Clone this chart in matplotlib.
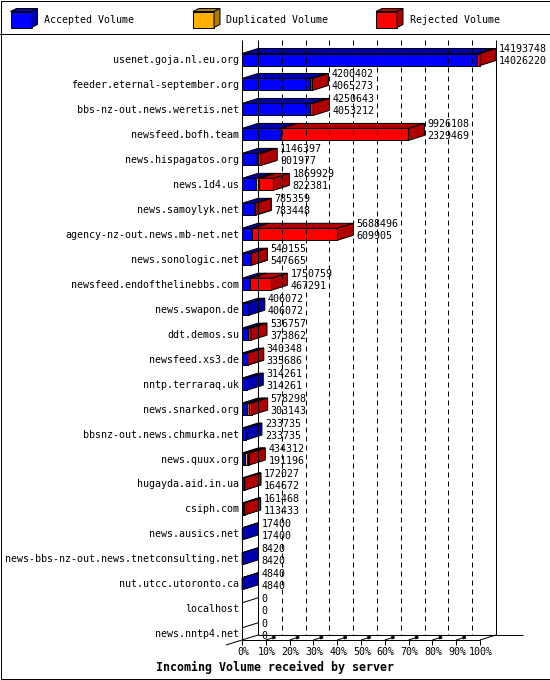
import matplotlib
matplotlib.use('Agg')
import matplotlib.pyplot as plt
from matplotlib.patches import Polygon, Rectangle

hosts = ['usenet.goja.nl.eu.org', 'feeder.eternal-september.org', 'bbs-nz-out.news.weretis.net',
         'newsfeed.bofh.team', 'news.hispagatos.org', 'news.1d4.us', 'news.samoylyk.net',
         'agency-nz-out.news.mb-net.net', 'news.sonologic.net', 'newsfeed.endofthelinebbs.com',
         'news.swapon.de', 'ddt.demos.su', 'newsfeed.xs3.de', 'nntp.terraraq.uk', 'news.snarked.org',
         'bbsnz-out.news.chmurka.net', 'news.quux.org', 'hugayda.aid.in.ua', 'csiph.com',
         'news.ausics.net', 'news-bbs-nz-out.news.tnetconsulting.net', 'nut.utcc.utoronto.ca',
         'localhost', 'news.nntp4.net']
total = [14193748, 4200402, 4250643, 9926108, 1146397, 1869929, 785359, 5688496, 549155, 1750759,
         406072, 536757, 340348, 314261, 578298, 233735, 434312, 172027, 161468, 17400, 8420, 4840, 0, 0]
accepted = [14026220, 4065273, 4053212, 2329469, 901977, 822381, 783448, 609905, 547665, 467291,
            406072, 373862, 335686, 314261, 303143, 233735, 191196, 164672, 113433, 17400, 8420, 4840, 0, 0]
duplicated = [0, 0, 0, 0, 0, 210000, 0, 0, 0, 0,
              0, 0, 0, 0, 120000, 0, 140000, 0, 0, 0, 0, 0, 0, 0]
rejected = [167528, 135129, 197431, 7596639, 244420, 837548, 1911, 5078591, 1490, 1283468,
            0, 162895, 4662, 0, 155155, 0, 103116, 7355, 48035, 0, 0, 0, 0, 0]
ticks = list(range(0, 101, 10))
tick_labels = [f'{t}%' for t in ticks]
series_names = ['Accepted Volume', 'Duplicated Volume', 'Rejected Volume']
front_colors = ['#0000ff', '#ffb000', '#ff0000']
side_colors = ['#0000b0', '#b07c00', '#b00000']

plt.rcParams['font.family'] = ['DejaVu Sans Mono']
plt.rcParams['font.size'] = 7.2

W, H = 550, 680
DX, DY = 16, 5            # 3d depth in pixels
ROW0, ROW_STEP = 60, 24.97
X0, X100 = 242, 480
TOP, FLOOR = 40, 640
LW = 0.72

fig = plt.figure(figsize=(W / 100, H / 100), dpi=100)
bg = fig.add_axes([0, 0, 1, 1])
bg.set_xlim(0, W)
bg.set_ylim(H, 0)
bg.axis('off')

ax = fig.add_axes([X0 / W, 1 - FLOOR / H, (X100 - X0) / W, (FLOOR - TOP) / H])
ytop = (TOP - ROW0) / ROW_STEP
yfloor = (FLOOR - ROW0) / ROW_STEP
ax.set_xlim(0, 100)
ax.set_ylim(yfloor, ytop)
ax.axis('off')

px = 100 / (X100 - X0)
py = 1 / ROW_STEP
ddx, ddy = DX * px, DY * py


def face(pts, color):
    ax.add_patch(Polygon(pts, closed=True, facecolor=color, edgecolor='black',
                         lw=LW, clip_on=False, joinstyle='miter'))


def seg(x, y, **kw):
    kw.setdefault('color', 'black')
    kw.setdefault('lw', LW)
    ax.plot(x, y, clip_on=False, solid_capstyle='butt', **kw)


# walls, floor and grid
seg([0, 0], [ytop, yfloor])
seg([ddx, ddx], [ytop, yfloor - ddy])
seg([100 + ddx, 100 + ddx], [ytop, yfloor - ddy])
seg([0, 100], [yfloor, yfloor])
seg([ddx, 100 + ddx + 27 * px], [yfloor - ddy, yfloor - ddy])
seg([100, 100 + ddx], [yfloor, yfloor - ddy])
seg([-ddx, ddx], [yfloor + ddy, yfloor - ddy])
for t in ticks[1:-1]:
    seg([t + ddx, t + ddx], [ytop, yfloor - ddy], linestyle=(0, (5, 4)))
    seg([t, t + 0.6 * ddx], [yfloor, yfloor - 0.6 * ddy])
    seg([t + 0.4 * ddx, t + 0.6 * ddx], [yfloor - 0.4 * ddy, yfloor - 0.6 * ddy], lw=2.2)
for t, lab in zip(ticks, tick_labels):
    seg([t, t], [yfloor, yfloor + 5 * py])
    ax.annotate(lab, xy=(t, yfloor), xytext=(1, -12), textcoords='offset pixels',
                ha='center', va='center', annotation_clip=False)

# bars
scale = 100 / max(total)
h_top, h_bot = 6.5 * py, 5.5 * py
for i, host in enumerate(hosts):
    top, bot = i - h_top, i + h_bot
    left = 0
    if total[i] == 0:
        seg([0, ddx], [top, top - ddy])
    for k, v in enumerate([accepted[i], duplicated[i], rejected[i]]):
        if v <= 0:
            continue
        r = left + v * scale
        face([(left, top), (r, top), (r + ddx, top - ddy), (left + ddx, top - ddy)], side_colors[k])
        face([(left, top), (r, top), (r, bot), (left, bot)], front_colors[k])
        face([(r, top), (r + ddx, top - ddy), (r + ddx, bot - ddy), (r, bot)], side_colors[k])
        left = r
    ax.annotate(host, xy=(0, i), xytext=(-3, 0), textcoords='offset pixels',
                ha='right', va='center', annotation_clip=False)
    xe = total[i] * scale
    ax.annotate(str(total[i]), xy=(xe, i), xytext=(DX + 3, 10.5), textcoords='offset pixels',
                ha='left', va='center', annotation_clip=False)
    ax.annotate(str(accepted[i]), xy=(xe, i), xytext=(DX + 3, -1.5), textcoords='offset pixels',
                ha='left', va='center', annotation_clip=False)

# legend
for k, (name, x) in enumerate(zip(series_names, [10.5, 193, 376])):
    y0, w, h, d, e = 11.5, 21, 16, 6, 3
    bg.add_patch(Polygon([(x, y0), (x + w, y0), (x + w + d, y0 - e), (x + d, y0 - e)],
                         facecolor=side_colors[k], edgecolor='black', lw=LW))
    bg.add_patch(Rectangle((x, y0), w, h, facecolor=front_colors[k], edgecolor='black', lw=LW))
    bg.add_patch(Polygon([(x + w, y0), (x + w + d, y0 - e), (x + w + d, y0 + h - e), (x + w, y0 + h)],
                         facecolor=side_colors[k], edgecolor='black', lw=LW))
    bg.text(x + 33.5, 20, name, ha='left', va='center')

bg.plot([0, W], [34, 34], color='black', lw=LW)
bg.add_patch(Rectangle((0.5, 0.5), W - 1, H - 2, fill=False, edgecolor='black', lw=LW))
bg.text(W / 2, 667, 'Incoming Volume received by server', ha='center', va='center',
        fontweight='bold', fontsize=8.4)

fig.savefig('out.png', dpi=100)
